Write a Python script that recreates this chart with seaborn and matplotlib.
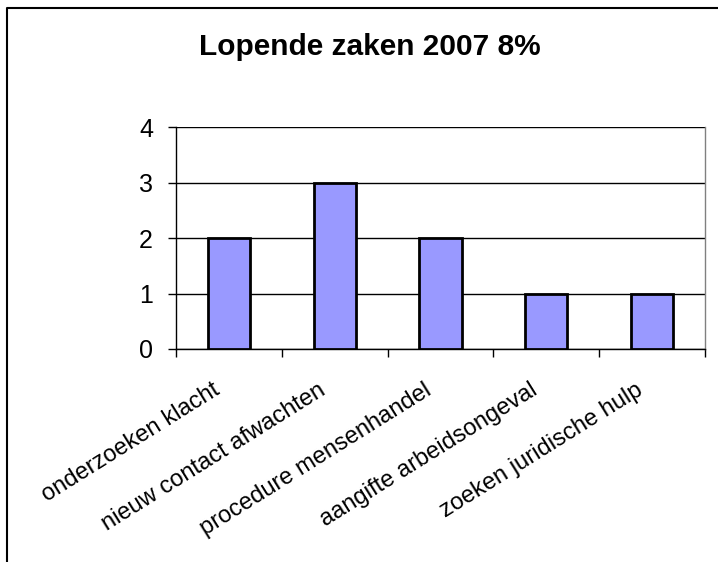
import matplotlib
matplotlib.use('Agg')
import matplotlib.pyplot as plt
import seaborn as sns
from matplotlib.lines import Line2D
from matplotlib.transforms import ScaledTranslation

# Data
categories = ['onderzoeken klacht', 'nieuw contact afwachten', 'procedure mensenhandel',
              'aangifte arbeidsongeval', 'zoeken juridische hulp']
values = [2, 3, 2, 1, 1]
y_ticks = [0, 1, 2, 3, 4]
title = 'Lopende zaken 2007 8%'

sns.set_style("white")
plt.rcParams['font.family'] = ['Liberation Sans', 'DejaVu Sans']
plt.rcParams['text.color'] = 'black'
plt.rcParams['xtick.color'] = 'black'
plt.rcParams['ytick.color'] = 'black'

fig = plt.figure(figsize=(7.18, 5.62), dpi=100)
ax = fig.add_axes([176 / 718, 1 - 349 / 562, (705 - 176) / 718, (349 - 127) / 562])

sns.barplot(x=categories, y=values, color='#9999FF', saturation=1,
            edgecolor='black', linewidth=2, width=0.4, ax=ax, zorder=3)

ax.set_ylim(0, 4)
ax.set_xlim(-0.5, len(categories) - 0.5)
ax.set_yticks(y_ticks)
ax.set_yticklabels([str(t) for t in y_ticks], fontsize=18)
ax.yaxis.grid(True, color='black', linewidth=1)
ax.set_axisbelow(True)

# category boundary ticks on x axis, labels drawn separately
ax.set_xticks([i - 0.5 for i in range(len(categories) + 1)])
ax.set_xticklabels([])
ax.tick_params(axis='x', direction='out', length=6, width=1, bottom=True)
ax.tick_params(axis='y', direction='out', length=6, width=1, left=True, pad=10.5)

shift = ScaledTranslation(-17 / 100, -30 / 100, fig.dpi_scale_trans)
for i, cat in enumerate(categories):
    ax.text(i, 0, cat, transform=ax.get_xaxis_transform() + shift,
            rotation=32, ha='right', va='top', rotation_mode='anchor', fontsize=17)

for s in ['left', 'bottom']:
    ax.spines[s].set_color('black')
    ax.spines[s].set_linewidth(1)
ax.spines['top'].set_visible(False)
ax.spines['right'].set_color('#808080')
ax.spines['right'].set_linewidth(1)
ax.set_xlabel('')
ax.set_ylabel('')

fig.text(370 / 718, 1 - 47 / 562, title, ha='center', va='center',
         fontsize=21.5, fontweight='bold')

# outer chart frame (top and left edges visible)
fig.add_artist(Line2D([7 / 718, 7 / 718, 1.0], [0.0, 1 - 8 / 562, 1 - 8 / 562],
                      transform=fig.transFigure, color='black', linewidth=1.5))

fig.savefig('out.png', dpi=100)
plt.close('all')
